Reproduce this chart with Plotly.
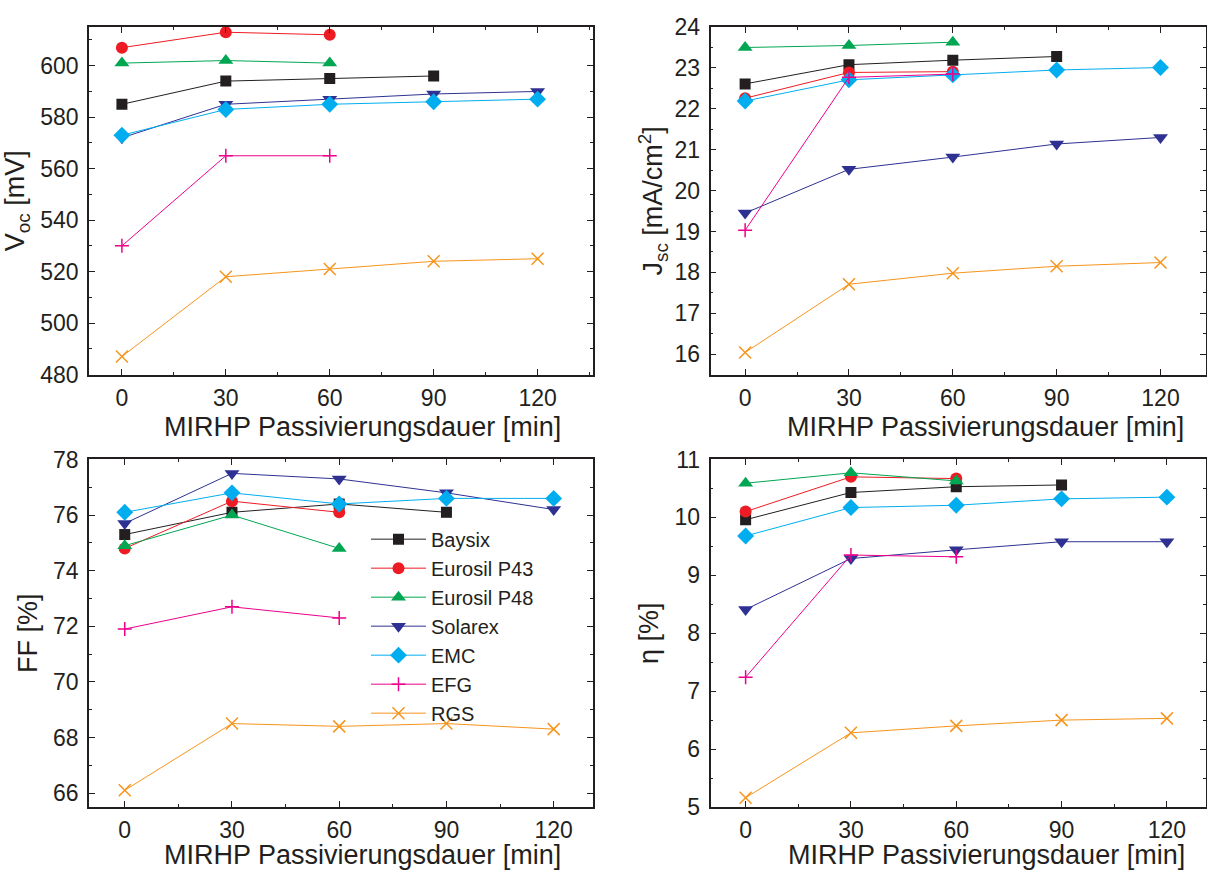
import plotly.graph_objects as go

minutes = [0, 30, 60, 90, 120]

names = ["Baysix", "Eurosil P43", "Eurosil P48", "Solarex", "EMC", "EFG", "RGS"]
colors = ["#231f20", "#ed1c24", "#00a651", "#2e3192", "#00aeef", "#ec008c", "#f7941d"]
symbols = ["square", "circle", "triangle-up", "triangle-down", "diamond", "cross-thin", "x-thin"]
sizes = [11, 12, 13, 13, 13, 10, 12]

# Voc [mV]
voc_baysix = [585, 594, 595, 596]
voc_p43 = [607, 613, 612]
voc_p48 = [601, 602, 601]
voc_solarex = [572, 585, 587, 589, 590]
voc_emc = [573, 583, 585, 586, 587]
voc_efg = [530, 565, 565]
voc_rgs = [487, 518, 521, 524, 525]

# Jsc [mA/cm2]
jsc_baysix = [22.61, 23.08, 23.19, 23.28]
jsc_p43 = [22.26, 22.89, 22.91]
jsc_p48 = [23.5, 23.55, 23.63]
jsc_solarex = [19.45, 20.52, 20.82, 21.14, 21.3]
jsc_emc = [22.19, 22.71, 22.83, 22.95, 23.01]
jsc_efg = [19.03, 22.77, 22.85]
jsc_rgs = [16.04, 17.71, 17.98, 18.15, 18.24]

# FF [%]
ff_baysix = [75.3, 76.1, 76.4, 76.1]
ff_p43 = [74.8, 76.5, 76.1]
ff_p48 = [74.9, 76.0, 74.8]
ff_solarex = [75.7, 77.5, 77.3, 76.8, 76.2]
ff_emc = [76.1, 76.8, 76.4, 76.6, 76.6]
ff_efg = [71.9, 72.7, 72.3]
ff_rgs = [66.1, 68.5, 68.4, 68.5, 68.3]

# eta [%]
eta_baysix = [9.96, 10.43, 10.53, 10.56]
eta_p43 = [10.1, 10.7, 10.67]
eta_p48 = [10.59, 10.77, 10.63]
eta_solarex = [8.41, 9.29, 9.44, 9.58, 9.58]
eta_emc = [9.68, 10.17, 10.21, 10.32, 10.35]
eta_efg = [7.24, 9.35, 9.32]
eta_rgs = [5.16, 6.28, 6.4, 6.5, 6.53]

panels = [
    ("x", "y", [voc_baysix, voc_p43, voc_p48, voc_solarex, voc_emc, voc_efg, voc_rgs], False),
    ("x2", "y2", [jsc_baysix, jsc_p43, jsc_p48, jsc_solarex, jsc_emc, jsc_efg, jsc_rgs], False),
    ("x3", "y3", [ff_baysix, ff_p43, ff_p48, ff_solarex, ff_emc, ff_efg, ff_rgs], True),
    ("x4", "y4", [eta_baysix, eta_p43, eta_p48, eta_solarex, eta_emc, eta_efg, eta_rgs], False),
]

fig = go.Figure()
for xa, ya, series, legend in panels:
    for i in range(7):
        vals = series[i]
        fig.add_trace(go.Scatter(
            x=minutes[:len(vals)], y=vals, xaxis=xa, yaxis=ya,
            mode="lines+markers", name=names[i], showlegend=legend,
            line=dict(color=colors[i], width=1),
            marker=dict(symbol=symbols[i], size=sizes[i], color=colors[i],
                        line=dict(color=colors[i], width=1.5 if i >= 5 else 0)),
        ))

W, H = 1207, 885
def fx(a, b):
    return [a / W, b / W]
def fy(top, bottom):
    return [1 - bottom / H, 1 - top / H]

font_family = "Liberation Sans, Arial, sans-serif"
txt = "#231f20"

def xaxis(domain, anchor, rng):
    return dict(domain=domain, anchor=anchor, range=rng, tickvals=minutes,
                ticks="inside", ticklen=6, tickwidth=1.2, tickcolor=txt,
                minor=dict(dtick=15, tick0=15, ticks="inside", ticklen=3, tickwidth=1.2, tickcolor=txt),
                showline=True, linewidth=1.5, linecolor=txt, mirror="allticks",
                showgrid=False, zeroline=False,
                tickfont=dict(family=font_family, size=23, color=txt), ticklabelstandoff=2)

def yaxis(domain, anchor, rng, dtick, minor, title, standoff):
    return dict(domain=domain, anchor=anchor, range=rng, dtick=dtick,
                ticks="inside", ticklen=6, tickwidth=1.2, tickcolor=txt,
                minor=dict(dtick=minor, ticks="inside", ticklen=3, tickwidth=1.2, tickcolor=txt),
                showline=True, linewidth=1.5, linecolor=txt, mirror="allticks",
                showgrid=False, zeroline=False,
                tickfont=dict(family=font_family, size=23, color=txt), ticklabelstandoff=4,
                title=dict(text=title, font=dict(family=font_family, size=27, color=txt), standoff=standoff))

top_y = fy(14.5, 372.5)
bot_y = fy(460, 818)
left_x = fx(89, 593)
right_x = fx(710.5, 1205.5)

fig.update_layout(
    width=W, height=H, margin=dict(l=0, r=0, t=0, b=0),
    paper_bgcolor="white", plot_bgcolor="white",
    font=dict(family=font_family, color=txt),
    xaxis=xaxis(left_x, "y", [-9.5, 136]),
    yaxis=yaxis(top_y, "x", [480, 615], 20, 10, "V<sub>oc</sub> [mV]", 10),
    xaxis2=xaxis(right_x, "y2", [-10, 133]),
    yaxis2=yaxis(top_y, "x2", [15.5, 24], 1, 0.5, "J<sub>sc</sub> [mA/cm<sup>2</sup>]", 4),
    xaxis3=xaxis(left_x, "y3", [-10, 131]),
    yaxis3=yaxis(bot_y, "x3", [65.5, 78], 2, 1, "FF [%]", 8),
    xaxis4=xaxis(right_x, "y4", [-10, 131]),
    yaxis4=yaxis(bot_y, "x4", [5, 11], 1, 0.5, "η [%]", 8),
    legend=dict(x=366 / W, y=1 - 522 / H, xanchor="left", yanchor="top",
                bgcolor="rgba(0,0,0,0)", borderwidth=0, itemwidth=55,
                font=dict(family=font_family, size=20, color=txt), tracegroupgap=0),
    showlegend=True,
)

xtitle = "MIRHP Passivierungsdauer [min]"
for cx, cy in [(362, 427), (985, 427), (362, 868), (986, 868)]:
    fig.add_annotation(text=xtitle, x=cx / W, y=1 - cy / H, xref="paper", yref="paper",
                       showarrow=False, xanchor="center", yanchor="middle",
                       font=dict(family=font_family, size=27, color=txt))

fig.write_html("out.html")
